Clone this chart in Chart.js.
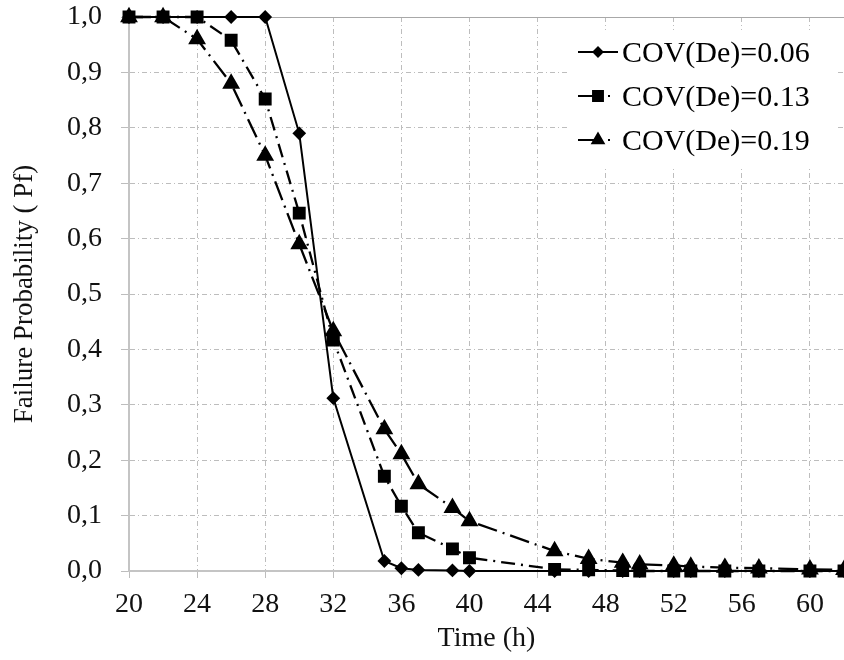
<!DOCTYPE html>
<html lang="en">

<head>
  <meta charset="UTF-8">
  <title>Failure Probability</title>
  <script src="https://cdn.jsdelivr.net/npm/chart.js"></script>
  <style>
    body { margin: 0; background: #fff; overflow: hidden; }
  </style>
</head>

<body>

  <canvas id="grafico-pf" width="844" height="660"></canvas>

</body>

</html>

<script>

  const tempos = [20, 22, 24, 26, 28, 30, 32, 35, 36, 37, 39, 40, 45, 47, 49, 50, 52, 53, 55, 57, 60, 62];

  const pfCov006 = [1, 1, 1, 1, 1, 0.79, 0.312, 0.018, 0.005, 0.002, 0.001, 0, 0, 0, 0, 0, 0, 0, 0, 0, 0, 0];
  const pfCov013 = [1, 1, 1, 0.958, 0.852, 0.646, 0.417, 0.171, 0.117, 0.069, 0.04, 0.024, 0.003, 0.002, 0.001, 0, 0, 0, 0, 0, 0, 0];
  const pfCov019 = [1, 1, 0.96, 0.88, 0.75, 0.59, 0.433, 0.256, 0.211, 0.157, 0.114, 0.09, 0.036, 0.022, 0.015, 0.012, 0.01, 0.008, 0.006, 0.005, 0.003, 0.002];

  const legendas = ['COV(De)=0.06', 'COV(De)=0.13', 'COV(De)=0.19'];

  const ticksX = [20, 24, 28, 32, 36, 40, 44, 48, 52, 56, 60];
  const ticksY = [0, 0.1, 0.2, 0.3, 0.4, 0.5, 0.6, 0.7, 0.8, 0.9, 1.0];

  const fonte = "'Liberation Serif', 'Times New Roman', serif";
  const corGrade = '#bdbdbd';

  function pontos(valores) {
    return tempos.map((t, i) => ({ x: t, y: valores[i] }));
  }

  // legenda desenhada à mão: traço + marcador + texto, com fundo branco
  const legendaPf = {
    id: 'legendaPf',
    afterDatasetsDraw(chart) {
      const ctx = chart.ctx;
      ctx.save();
      ctx.fillStyle = '#fff';
      ctx.fillRect(570, 30, 268, 136);

      const linhas = [52, 96, 140];
      chart.data.datasets.forEach((ds, i) => {
        const y = linhas[i];
        ctx.save();
        ctx.strokeStyle = '#000';
        ctx.lineWidth = 2;
        ctx.setLineDash(ds.legendaDash || []);
        ctx.beginPath();
        ctx.moveTo(578, y);
        ctx.lineTo(618, y);
        ctx.stroke();
        ctx.restore();

        ctx.fillStyle = '#000';
        ctx.strokeStyle = '#000';
        Chart.helpers.drawPoint(ctx, {
          pointStyle: ds.pointStyle,
          radius: ds.legendaRaio,
          rotation: 0,
          borderWidth: 1
        }, 598, y);

        ctx.fillStyle = '#000';
        ctx.font = '30px ' + fonte;
        ctx.textAlign = 'left';
        ctx.textBaseline = 'alphabetic';
        ctx.fillText(ds.label, 622, y + 10);
      });
      ctx.restore();
    }
  };

  const ctx = document.getElementById('grafico-pf');

  new Chart(ctx, {
    type: 'line',
    data: {
      datasets: [
        {
          label: legendas[0],
          data: pontos(pfCov006),
          borderColor: '#000',
          backgroundColor: '#000',
          borderWidth: 2,
          pointStyle: 'rectRot',
          pointRadius: 5.5,
          legendaRaio: 4.5,
          legendaDash: []
        },
        {
          label: legendas[1],
          data: pontos(pfCov013),
          borderColor: '#000',
          backgroundColor: '#000',
          borderWidth: 2.3,
          borderDash: [14, 6, 2, 6],
          pointStyle: 'rect',
          pointRadius: 7.5,
          legendaRaio: 7,
          legendaDash: [20, 10, 2, 100]
        },
        {
          label: legendas[2],
          data: pontos(pfCov019),
          borderColor: '#000',
          backgroundColor: '#000',
          borderWidth: 2.3,
          borderDash: [20, 6, 2, 6],
          pointStyle: 'triangle',
          pointRadius: 8,
          legendaRaio: 6.5,
          legendaDash: [20, 10, 2, 100]
        }
      ]
    },
    options: {
      responsive: false,
      animation: false,
      clip: false,
      layout: { autoPadding: false, padding: { top: 17, right: 0, left: 0, bottom: 0 } },
      elements: {
        line: { tension: 0 },
        point: { borderWidth: 1, hoverRadius: 8 }
      },
      plugins: {
        legend: { display: false },
        tooltip: { enabled: false }
      },
      scales: {
        x: {
          type: 'linear',
          min: 20,
          max: 62,
          afterFit: (s) => { s.height = 89; s.paddingLeft = 0; s.paddingRight = 0; },
          afterBuildTicks: (s) => { s.ticks = ticksX.map(v => ({ value: v })); },
          ticks: {
            color: '#111',
            padding: 10,
            maxRotation: 0,
            font: { family: fonte, size: 28 },
            callback: (v) => String(v)
          },
          grid: {
            color: corGrade,
            lineWidth: 1,
            tickLength: 7,
            tickColor: corGrade
          },
          border: {
            color: '#c4c4c4',
            width: 2,
            dash: [5, 3, 1, 3]
          },
          title: {
            display: true,
            text: 'Time (h)',
            color: '#111',
            font: { family: fonte, size: 28 },
            padding: { top: 0, bottom: 5 }
          }
        },
        y: {
          min: 0,
          max: 1,
          afterFit: (s) => { s.width = 129; s.paddingTop = 0; s.paddingBottom = 0; },
          afterBuildTicks: (s) => { s.ticks = ticksY.map(v => ({ value: v })); },
          ticks: {
            color: '#111',
            padding: 19,
            font: { family: fonte, size: 28 },
            callback: (v) => v.toFixed(1).replace('.', ',')
          },
          grid: {
            color: (c) => c.tick && c.tick.value === 1 ? '#a8a8a8' : corGrade,
            lineWidth: 1,
            tickLength: 8,
            tickColor: corGrade
          },
          border: {
            color: '#c4c4c4',
            width: 2,
            dash: (c) => c.tick && c.tick.value === 1 ? [] : [5, 3, 1, 3]
          },
          title: {
            display: true,
            text: 'Failure Probability ( Pf)',
            color: '#111',
            font: { family: fonte, size: 27 },
            padding: { top: 9, bottom: 0 }
          }
        }
      }
    },
    plugins: [legendaPf]
  });

</script>
